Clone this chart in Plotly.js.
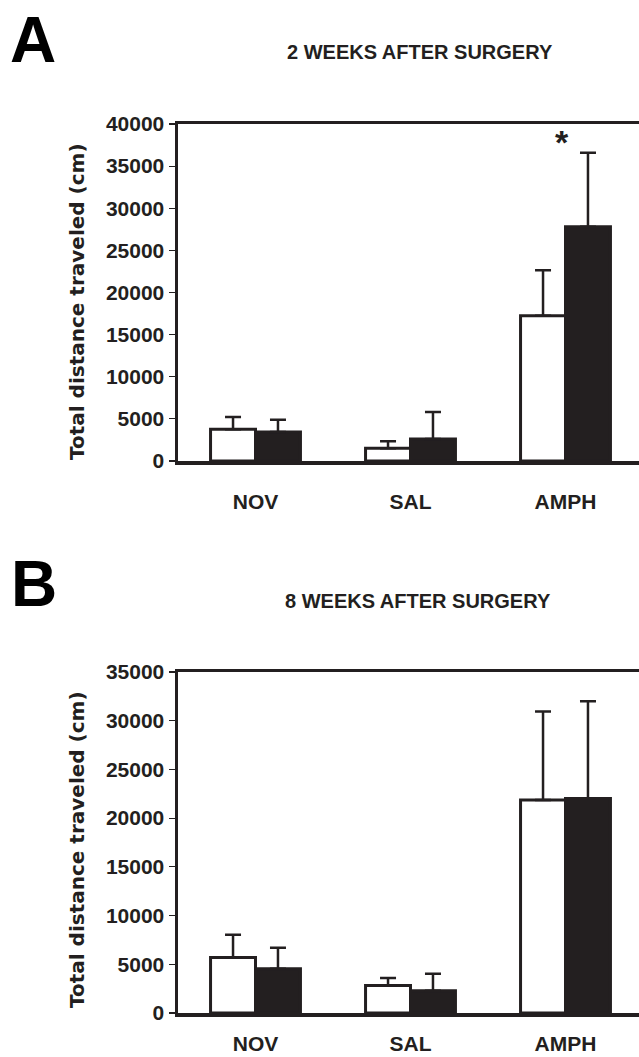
<!DOCTYPE html>
<html>
<head>
<meta charset="utf-8">
<script src="https://cdn.plot.ly/plotly-3.0.1.min.js"></script>
<style>
html,body{margin:0;padding:0;overflow:hidden;background:#fff;}
#chart{width:660px;height:1057px;}
</style>
</head>
<body>
<div id="chart"></div>
<script>
// ---- data ----
const categories = ["NOV", "SAL", "AMPH"];
// Panel A: 2 weeks after surgery
const aWhite    = [3780, 1500, 17250];
const aWhiteErr = [1450, 850, 5400];
const aBlack    = [3450, 2620, 27800];
const aBlackErr = [1450, 3200, 8800];
// Panel B: 8 weeks after surgery
const bWhite    = [5700, 2830, 21850];
const bWhiteErr = [2330, 770, 9100];
const bBlack    = [4540, 2290, 22020];
const bBlackErr = [2170, 1750, 9980];
const yTicksA = [0, 5000, 10000, 15000, 20000, 25000, 30000, 35000, 40000];
const yTicksB = [0, 5000, 10000, 15000, 20000, 25000, 30000, 35000];
const titleA = "2 WEEKS AFTER SURGERY";
const titleB = "8 WEEKS AFTER SURGERY";
const yTitle = "Total distance traveled (cm)";
const starValueA = 37900;

// ---- layout helpers ----
const W = 660, H = 1057, L = 178, R = 643;
const PW = R - L;
const px2x = p => (p - L) / PW;
const py2y = p => 1 - p / H;
const INK = "#231f20";
const FONT = "Liberation Sans, Arial, sans-serif";
const WIDE = "DejaVu Sans, Liberation Sans, sans-serif";

function barTrace(y, err, filled, xa, ya) {
  return {
    type: "bar", x: categories, y: y, xaxis: xa, yaxis: ya,
    marker: { color: filled ? INK : "#ffffff", line: { color: INK, width: 3 } },
    error_y: { type: "data", symmetric: false, array: err, arrayminus: err.map(() => 0),
               color: INK, thickness: 2.5, width: 8 },
    hoverinfo: "none", showlegend: false
  };
}

const data = [
  barTrace(aWhite, aWhiteErr, false, "x", "y"),
  barTrace(aBlack, aBlackErr, true, "x", "y"),
  barTrace(bWhite, bWhiteErr, false, "x2", "y2"),
  barTrace(bBlack, bBlackErr, true, "x2", "y2")
];

function xAxis(anchor, standoff) {
  return {
    anchor: anchor, domain: [0, 1], range: [-0.5, 2.5], type: "category",
    showline: true, mirror: true, linecolor: INK, linewidth: 3.5,
    ticks: "", showgrid: false, zeroline: false, fixedrange: true,
    ticklabelstandoff: standoff,
    tickfont: { family: FONT, size: 21, color: INK, weight: "bold" }
  };
}
function yAxis(anchor, top, bottom, maxV, ticks) {
  return {
    anchor: anchor, domain: [py2y(bottom), py2y(top)], range: [0, maxV],
    tickmode: "array", tickvals: ticks, ticktext: ticks.map(String),
    showline: true, mirror: true, linecolor: INK, linewidth: 3.5,
    ticks: "outside", ticklen: 6, tickwidth: 1.2, tickcolor: INK,
    showgrid: false, zeroline: false, fixedrange: true,
    tickfont: { family: FONT, size: 21, color: INK, weight: "bold" }
  };
}

const annFont = (s, fam) => ({ family: fam || FONT, size: s, color: INK, weight: "bold" });
function ann(text, px, py, size, extra) {
  return Object.assign({ text: text, xref: "paper", yref: "paper", x: px2x(px), y: py2y(py),
    xanchor: "center", yanchor: "middle", showarrow: false, font: annFont(size) }, extra || {});
}
const bigFont = { family: FONT, size: 64, color: "#000", weight: "bold" };
const layout = {
  width: W, height: H,
  margin: { l: L, r: W - R, t: 0, b: 0 },
  paper_bgcolor: "#fff", plot_bgcolor: "#fff",
  barmode: "group", bargap: 0.42, bargroupgap: 0,
  showlegend: false,
  xaxis: xAxis("y", 19),
  yaxis: yAxis("x", 124, 461, 40000, yTicksA),
  xaxis2: xAxis("y2", 9),
  yaxis2: yAxis("x2", 672, 1013, 35000, yTicksB),
  annotations: [
    ann("A", 33, 40, 64, { font: bigFont }),
    ann("B", 34, 584, 64, { font: bigFont }),
    ann(titleA, 420, 52, 20),
    ann(titleB, 418, 601, 20),
    ann(yTitle, 77, 302, 20, { textangle: -90, font: annFont(20, WIDE) }),
    ann(yTitle, 77, 850, 20, { textangle: -90, font: annFont(20, WIDE) }),
    { text: "*", xref: "x", yref: "y", x: "AMPH", xshift: -4, y: starValueA,
      xanchor: "center", yanchor: "middle", showarrow: false, font: annFont(34) }
  ]
};

Plotly.newPlot("chart", data, layout, { staticPlot: true, displayModeBar: false });
</script>
</body>
</html>
